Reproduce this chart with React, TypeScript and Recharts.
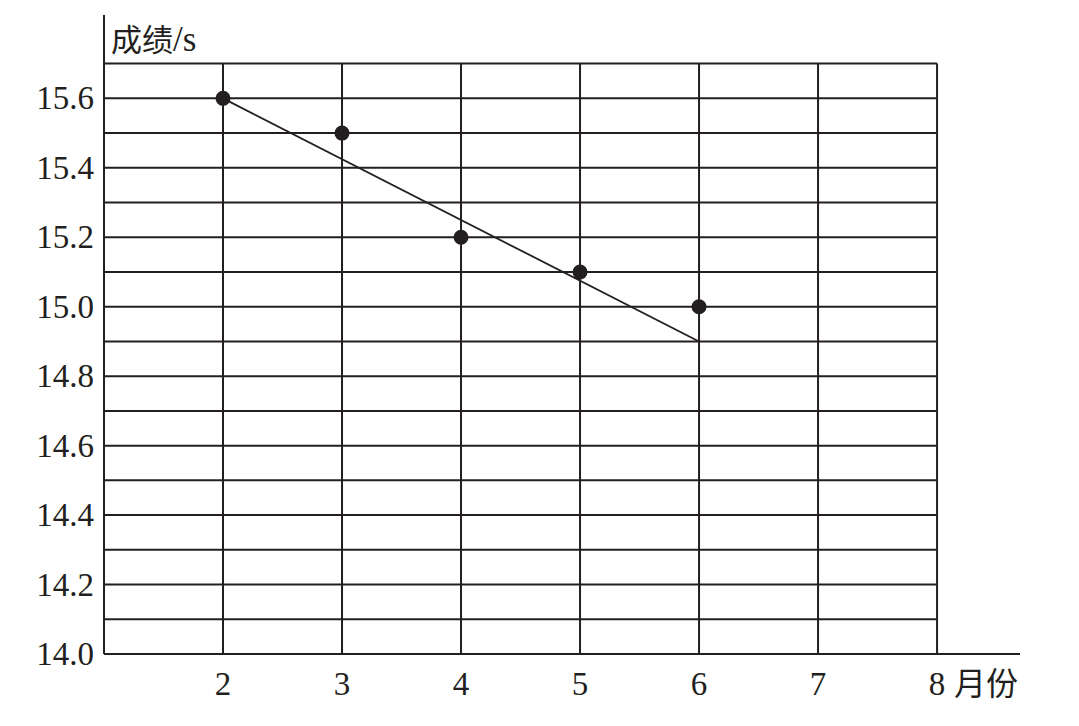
import React from 'react';
import {
  ComposedChart,
  XAxis,
  YAxis,
  Line,
  Scatter,
  ReferenceLine,
} from 'recharts';

const months = [2, 3, 4, 5, 6];
const scores = [15.6, 15.5, 15.2, 15.1, 15.0];
const trendMonths = [2, 6];
const trendScores = [15.6, 14.9];
const xTicks = [2, 3, 4, 5, 6, 7, 8];
const yTicks = [14.0, 14.2, 14.4, 14.6, 14.8, 15.0, 15.2, 15.4, 15.6];
const gridYValues = [14.1, 14.2, 14.3, 14.4, 14.5, 14.6, 14.7, 14.8, 14.9, 15.0, 15.1, 15.2, 15.3, 15.4, 15.5, 15.6, 15.7];
const gridXValues = [2, 3, 4, 5, 6, 7, 8];
const yTitleCn = '成绩';
const yTitleUnit = '/s';
const xUnit = '月份';

const pointData = months.map((m, i) => ({ x: m, y: scores[i] }));
const trendData = trendMonths.map((m, i) => ({ x: m, y: trendScores[i] }));

const INK = '#231f20';
const SERIF = 'Liberation Serif';
const CJK = 'Noto Sans CJK SC';

const XTick = (props: any) => {
  const { x, y, payload } = props;
  return (
    <g>
      <text x={x} y={y + 41} textAnchor="middle" fontSize={33} fontFamily={SERIF} fill={INK}>
        {payload.value}
      </text>
      {payload.value === 8 && (
        <text x={x + 17} y={y + 41} textAnchor="start" fontSize={32} fontFamily={CJK} fill={INK}>
          {xUnit}
        </text>
      )}
    </g>
  );
};

const YTick = (props: any) => {
  const { x, y, payload } = props;
  return (
    <text x={x} y={y + 11} textAnchor="end" fontSize={33} fontFamily={SERIF} fill={INK}>
      {Number(payload.value).toFixed(1)}
    </text>
  );
};

const YTitle = (props: any) => {
  const vb = props.viewBox || {};
  return (
    <text x={(vb.x || 0) + (vb.width || 0) + 7} y={(vb.y || 0) + 36} fill={INK}>
      <tspan fontFamily={CJK} fontSize={31}>{yTitleCn}</tspan>
      <tspan fontFamily={SERIF} fontSize={35}>{yTitleUnit}</tspan>
    </text>
  );
};

export default function App() {
  return (
    <div style={{ background: '#fff', width: 1079, height: 726 }}>
      <ComposedChart width={1071} height={718} margin={{ top: 7, right: 59, bottom: 0, left: 0 }}>
        <XAxis
          type="number"
          dataKey="x"
          domain={[1, 8.697]}
          ticks={xTicks}
          allowDataOverflow
          tickLine={false}
          tickSize={0}
          tickMargin={0}
          height={72}
          axisLine={{ stroke: INK, strokeWidth: 2 }}
          tick={<XTick />}
        />
        <YAxis
          type="number"
          dataKey="y"
          domain={[14, 15.84]}
          ticks={yTicks}
          allowDataOverflow
          width={96}
          tickLine={false}
          tickSize={0}
          tickMargin={10}
          axisLine={{ stroke: INK, strokeWidth: 2 }}
          tick={<YTick />}
          label={<YTitle />}
        />
        {gridYValues.map((v) => (
          <ReferenceLine
            key={'h' + v}
            segment={[{ x: 1, y: v }, { x: 8, y: v }]}
            stroke={INK}
            strokeWidth={2}
          />
        ))}
        {gridXValues.map((v) => (
          <ReferenceLine
            key={'v' + v}
            segment={[{ x: v, y: 14 }, { x: v, y: 15.7 }]}
            stroke={INK}
            strokeWidth={2}
          />
        ))}
        <Line
          data={trendData}
          dataKey="y"
          type="linear"
          stroke={INK}
          strokeWidth={1.8}
          dot={false}
          activeDot={false}
          isAnimationActive={false}
        />
        <Scatter
          data={pointData}
          dataKey="y"
          fill={INK}
          isAnimationActive={false}
          shape={(p: any) => <circle cx={p.cx} cy={p.cy} r={7.5} fill={INK} />}
        />
      </ComposedChart>
    </div>
  );
}
